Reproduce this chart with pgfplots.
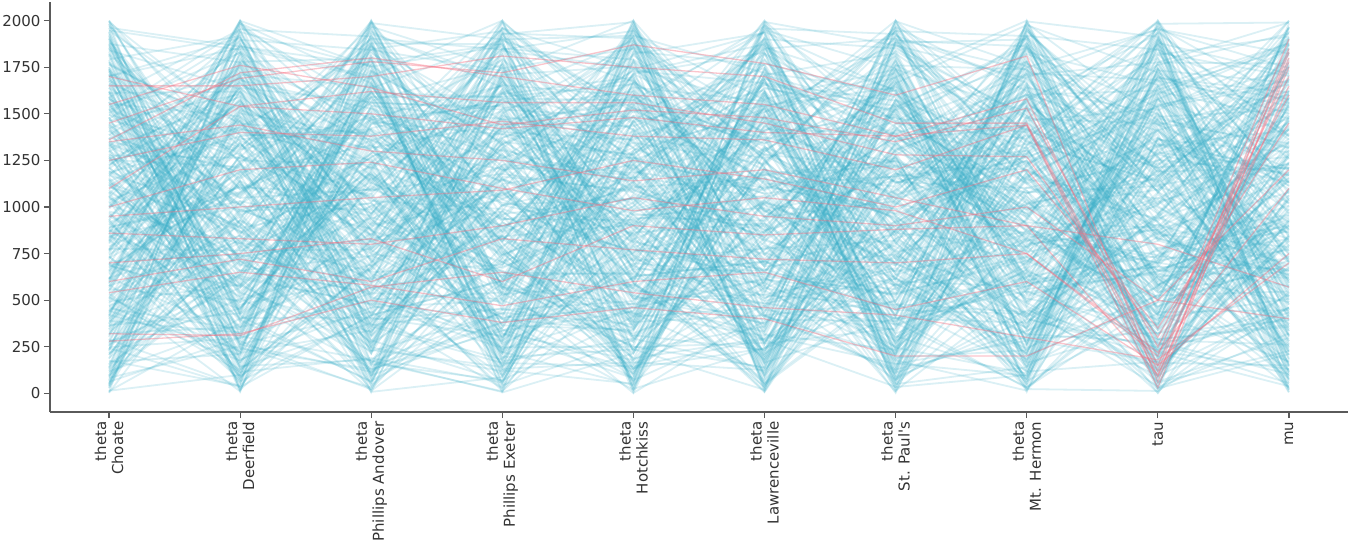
\documentclass[border=0pt]{standalone}
\usepackage{fontspec}
\setmainfont{DejaVu Sans}[Ligatures=TeXOff]
\usepackage{pgfplots}
\usepackage{pgfplotstable}
\pgfplotsset{compat=1.18}
\definecolor{cb}{HTML}{36ACC6}
\definecolor{cr}{HTML}{F66D7F}
\definecolor{spine}{HTML}{5A5A5A}
\definecolor{lab}{HTML}{333333}
\pgfplotstableread[header=false]{
0 873 1702 256 1318 41 1937 689 1520 455 1107 1463 512 1884 133 1049 771 1655 318 1246 962 207 1391 604 1788 835 12 1577 1996 1150 431 1823 95 1182 567 1409 916 372 1265 1621 740 652 1548 170 1013 1962 289 1734 496 1337 881 1213 344 1679 718 583 1496 1091 62 947 1855 421 1124 1432 1901 236 1766 118 809 763 1284 1640 677 990 215 1352 540 2000 1067 27 1591 154 1876 468 1455 621 1299 854 1712 390 1036 1168 903 1227 83 1608 1948 409 735 1534 261 1417 5 698 829 577 1135 1370 1819 1751 302 243 1693 1002 1980 1325 617 186 439 971 1565 1841 746 1481 520 99 1617 888 357 1193 1258 842 1349 47 1774 226 594 1443 1080 1909 660 483 1992 331 1119 1512 925 707 1206 138 1729 1274 1056 1661 788 867 71 279 1589 552 1868
1 519 1908 1142 76 1533 629 1787 1260 345 893 1604 227 958 1381 712 1999 18 1075 1426 568 1031 794 1852 263 1725 402 1318 841 157 1490 103 1557 476 1680 912 1232 1935 384 655 1188 1347 806 211 748 1861 39 1097 1461 535 1759 603 1698 1279 1977 126 1014 590 298 1573 977 1826 443 64 870 1159 1404 372 1641 1336 681 239 1120 1773 507 1205 929 766 1894 1518 9 1447 181 727 1066 320 1616 2000 461 850 1293 985 1364 1596 254 422 1843 1710 92 1173 632 1008 1951 574 1479 819 356 140 1243 701 1667 33 779 1742 944 1918 1311 1412 1136 283 490 1633 1226 398 115 660 546 1081 1872 897 1551 618 217 1985 1357 1779 1508 863 52 429 1195 1268 1437 832 581 1049 169 745 1696 1831 307 265 88 1389 1110 1583 1964 455 719 1620 904
2 1491 636 84 1873 1027 475 1302 967 1658 214 366 1929 1215 812 147 1753 703 1585 529 1162 884 23 1690 438 1376 1101 1968 271 1444 768 1715 1044 620 1527 349 112 936 1890 1233 597 486 1289 1807 58 1762 823 1419 650 1184 233 1954 392 905 1341 677 1470 171 1637 552 1019 1126 1669 415 310 1846 1250 741 6 872 1562 130 951 1475 690 504 1993 1070 1326 285 1728 1394 461 246 1612 1538 773 840 1153 1917 95 724 1406 1089 2000 859 329 1645 573 42 1208 1786 159 1878 612 1267 497 378 1590 1005 918 421 1134 990 1569 252 1704 1862 67 1357 785 1240 1940 667 189 544 1175 1503 829 1671 303 14 337 1456 1048 1796 751 1283 1811 946 407 1903 877 1619 226 1093 1321 588 709 1412 178 963 682 1365 517 101 1547 1196 1732 360 1985
3 1084 62 1932 706 1475 243 891 1630 517 1358 453 1687 935 1224 382 1861 1519 137 1163 648 1999 1306 290 28 817 779 1744 1010 1568 406 175 623 1438 1129 1776 588 1267 351 1820 962 1344 1955 572 1709 88 844 1057 690 216 1503 735 1192 1611 305 1283 1546 11 1897 901 479 1653 268 1371 976 1944 150 424 1488 659 1040 337 1422 752 1986 541 1146 1795 1203 66 829 866 498 119 1591 614 1668 1839 226 1330 1101 1530 943 1178 561 399 1251 783 97 1725 1906 44 1393 1873 1066 1615 279 1454 808 505 672 1927 740 322 1762 850 186 1215 447 1139 1582 1023 1641 1467 58 1316 590 617 1960 254 979 536 918 1389 1893 131 1500 368 1195 705 1706 1262 213 766 430 1559 2000 1077 1680 894 7 1749 1431 827 301 1118 694 1850 1340 163 570
4 713 1268 1905 344 1150 1672 109 528 1461 887 1962 25 931 1537 482 1203 395 1781 1089 640 217 1132 1575 796 1628 153 1849 858 1322 461 1391 1714 597 71 915 2000 604 1418 276 1043 132 806 352 1756 1290 413 1489 1198 727 1873 1547 1918 1076 1233 681 229 964 39 563 1697 821 586 1666 1980 14 1402 1167 1356 304 752 440 1593 188 1025 1831 942 1249 619 1603 383 1116 257 1387 899 1519 699 1744 1896 56 509 1620 771 1939 430 333 1181 97 1466 849 1315 286 1277 662 1408 551 1785 973 121 1859 1004 1992 1057 178 734 1301 826 361 495 1645 1573 902 4 1553 1264 1815 248 1139 1739 688 417 1228 521 1093 1674 167 741 1928 1445 379 954 1480 1606 312 83 877 1343 569 656 1160 1951 609 1867 1254 1120 235 1533 1791 812 145 478
5 1731 919 466 1235 1879 98 1148 287 694 1510 12 1572 1061 755 331 1668 1993 1276 840 593 1309 406 1941 1432 983 1019 264 179 1765 617 721 1828 57 384 1357 512 1622 874 1488 1177 1033 226 1709 953 140 1536 680 1906 449 1392 1970 1249 771 1656 527 359 896 1417 1108 73 574 36 1281 1085 1591 1847 213 648 810 1788 1464 1129 296 1999 702 927 160 1603 1338 419 861 1690 1546 495 1199 639 1263 22 1823 377 245 667 968 114 1744 1370 1958 544 1402 1071 1210 1900 1613 339 482 91 1155 835 746 1527 187 561 603 1499 1867 1771 909 1325 202 1016 1642 1444 51 880 1296 271 538 1934 1187 712 629 1040 1885 1219 125 467 1575 318 1707 994 1166 822 233 1976 1411 793 1680 7 596 1253 1849 166 1483 416 949 1093 1362 659 290 1619
6 308 1525 874 1913 722 1286 460 35 1182 1694 1263 640 118 517 1753 1011 1867 933 1449 250 847 1997 1621 1134 378 74 1575 1320 688 403 1407 263 589 1710 1959 795 861 1058 146 1247 426 1172 1824 3 1348 916 1667 601 339 1496 193 1613 1090 1542 475 1880 212 1395 990 770 2000 826 1211 371 61 1463 635 558 1790 1127 1045 100 741 953 1521 1735 1307 291 1942 493 1688 1380 226 660 1109 530 15 1893 1430 809 709 447 1557 1274 878 320 1928 1606 128 1165 244 1851 85 1739 616 1073 947 1413 1359 561 1236 898 1985 405 356 1590 49 687 1156 1647 1475 722 1018 173 1812 1339 1760 482 863 281 537 1704 1297 1966 915 107 1191 234 1508 653 29 1221 830 1454 1627 579 756 1038 1839 387 1904 1100 414 205 1375 1676 1538 921 617 160
7 77 1054 1733 659 1289 310 1894 1418 951 533 836 214 1487 1952 578 1641 1180 112 1367 704 1569 1755 617 1102 34 446 1313 880 1985 379 492 1227 257 163 1131 1919 786 1612 1540 968 1876 640 1331 1473 812 52 336 573 1663 1019 1167 139 1969 939 288 1260 1709 730 413 1421 671 1508 536 1790 1833 1088 857 237 18 1384 1245 2000 91 361 758 903 1559 1146 468 1727 224 982 1040 1392 1681 1527 555 1862 695 145 1776 427 866 8 1443 620 1215 1193 302 1921 1074 1490 395 777 184 1850 509 1270 1602 831 66 1694 1353 548 1947 271 646 1456 917 1125 1401 349 1908 1010 593 874 1738 120 1279 667 713 41 988 1622 1324 1159 203 1996 421 1593 1815 1302 485 826 265 735 176 1769 1414 1061 943 608 1647 1535 1001 591 1858 1236 318 95
8 1271 508 1443 26 1967 876 347 1090 1718 652 263 1637 765 1184 818 1502 151 1885 414 1330 1929 1117 63 1249 581 230 1680 699 1465 937 860 1578 1306 372 617 1844 1038 447 109 1793 553 4 1762 1990 1421 1368 722 906 286 1152 1526 1907 964 659 171 1609 496 319 1078 1212 1015 205 1853 578 1656 82 1393 1547 744 831 138 688 1167 1707 1281 422 997 1938 1484 259 1611 1339 340 853 1105 776 1412 57 1976 529 605 947 463 1519 219 1196 1819 1744 1223 191 1357 16 1590 1870 711 821 376 565 1625 1049 430 1955 1133 291 1264 1733 97 633 889 1408 1801 1476 617 122 956 517 1084 1321 1690 233 396 1070 1649 1284 45 1541 488 1913 840 767 918 582 1372 702 1897 364 1775 1453 1143 164 1494 680 31 1012 544 1201 869 1630 275 2000
9 627 1762 1115 211 1570 93 1353 1894 489 936 1041 537 170 1959 1306 764 1688 334 825 1412 19 1230 298 1717 880 1985 410 1466 718 1181 1641 1872 605 1285 127 1557 389 973 1094 568 1397 852 1930 447 699 1022 1440 55 261 1735 305 144 1583 910 1623 502 1158 740 1817 1268 1911 1488 426 1063 356 1214 8 1679 944 633 817 242 1752 181 1134 1871 676 1379 1522 459 594 1199 1327 785 2000 868 1604 227 72 1419 1536 657 901 1844 38 313 1259 521 1796 1007 112 1709 477 1362 1505 621 1966 1176 280 829 1088 1823 1451 367 553 1667 990 164 1233 752 706 1316 81 845 1731 1146 249 1908 1578 433 1602 418 1879 1473 1290 21 692 1040 958 372 208 926 639 575 1129 1544 1770 1341 1938 150 1207 1464 322 1658 780 884 516 1850 103 1073
}\blue
\pgfplotstableread[header=false]{
0 1062 443 1739 158 1224 1890 366 820 1408 771 1947 1329 612 1583 276 935 49 1675 587 1190 110 858 1466 509 1813 1001 1243 690 1792 205 1386 233 1157 1620 728 3 421 1971 997 1439 645 1856 86 912 1502 1277 1741 342 1053 560 1706 1138 471 311 190 1527 2000 1365 672 826 285 1473 1299 1918 1112 767 843 445 127 1658 952 31 1875 619 536 1689 1082 1554 1217 398 1421 734 217 1175 1763 593 66 1338 1939 881 402 1727 869 1253 1834 359 1588 14 1096 657 1902 268 1519 142 976 701 1314 1147 1640 575 1020 1266 176 1749 416 1495 247 1848 638 927 754 92 1129 375 1372 1983 1612 803 492 1563 54 1926 548 893 1448 1713 686 1302 322 1166 1779 940 1209 611 1031 120 1867 466 1537 253 1345 524 389 1481 38 815 1185 1701 776 1960
1 301 1239 167 624 1752 1093 430 1883 858 1547 1459 971 1995 1011 566 58 1688 279 1381 733 712 116 1297 1624 394 1572 887 453 1917 1140 1831 1761 511 24 1077 930 240 1322 1415 617 1166 690 1503 355 1948 1264 147 963 1705 498 82 1431 809 1874 745 582 1236 1667 1120 214 1352 1908 337 426 1550 1639 1002 176 790 911 572 1185 1776 846 11 262 658 1486 1864 1273 1693 223 752 1534 1391 2000 981 1049 129 405 925 540 1106 1215 386 636 1953 99 1462 1644 311 1727 1829 777 805 73 1591 459 1152 1341 1423 1012 40 520 1773 1308 297 711 946 1986 1812 641 872 1226 1190 248 1619 1519 583 135 1287 18 1658 1031 729 1455 490 817 356 1897 418 1567 691 1939 100 992 1133 206 1712 1250 1059 899 326 191 1477 1795 1379 1853 766 437
2 1648 97 912 1531 418 1357 1826 703 1180 219 684 1099 311 1959 1224 1775 561 22 1416 830 1270 1488 1880 958 65 347 1022 1693 519 748 275 874 134 1161 1739 611 1445 1904 1316 482 1996 533 1382 1611 777 1058 180 233 903 1590 827 1783 656 447 1506 1849 396 1204 8 1127 152 716 1625 1293 1145 1562 986 584 2000 270 1473 1331 459 372 1930 116 738 847 1701 1085 1136 1862 1517 43 281 931 1262 1760 667 406 565 329 1072 790 1240 1653 1915 1423 167 880 1727 817 79 1869 431 1344 215 1193 1558 623 1211 602 1977 1007 964 1480 538 364 126 1664 248 1901 475 850 1798 31 758 1306 1114 1543 643 1452 1358 382 1174 592 1618 159 896 1843 59 1033 941 1752 1470 683 254 1987 420 1229 1838 110 1596 1387 319 1165 808 506 772 1700
3 846 352 1936 1258 607 171 1402 1116 564 1684 29 1747 1090 447 1560 1873 1337 792 222 977 1515 588 108 1992 1158 1633 281 863 1211 654 1183 1309 725 398 56 839 1789 1845 1447 401 527 1905 1654 931 1285 213 637 142 1075 1591 1722 761 1366 1489 334 1001 455 1960 87 898 1227 13 579 1046 1611 1523 1889 247 950 708 365 819 1434 181 496 744 1147 1764 2000 1372 1851 1465 924 615 1199 542 38 1273 1670 309 679 1010 237 1708 1914 1390 871 1577 433 124 1348 479 1776 290 955 95 1962 632 1538 1177 148 1820 779 1217 1408 1651 506 1086 379 812 1605 224 1154 1877 5 917 1318 566 686 1473 410 1249 1552 880 748 1930 320 70 1041 1731 1426 989 157 531 1301 1124 1695 1899 603 268 1012 1618 552 726 1846 341 1580 842 1336 194
4 185 1549 658 1735 1003 294 1362 540 1917 826 1216 362 1860 972 1685 710 1587 1132 44 431 595 1983 1069 1454 99 1278 863 1621 784 215 1773 901 237 19 1304 562 1188 1945 1433 619 752 1233 1596 1047 383 1821 136 988 457 1659 2000 67 844 479 697 1708 322 1508 1376 1105 1171 625 2 1345 1893 1481 416 251 1642 937 341 1712 1259 1958 876 1022 774 158 592 1575 1411 509 1788 277 1267 107 1835 959 1140 666 925 1163 443 737 1529 1909 1604 1201 370 52 1283 1999 294 1666 133 868 1442 648 520 1080 468 24 1562 1151 1854 792 1247 390 917 1747 1696 1390 811 176 215 573 1017 1489 1967 711 1879 301 629 1526 1719 1094 81 412 1318 985 63 760 1677 586 840 1226 345 1919 1130 1460 1045 1418 1893 1291 503 129 677 904 1731 236
5 1492 977 210 48 1903 770 1684 1309 573 1116 437 1740 1385 1171 694 1462 125 1890 867 308 1966 266 655 1627 1243 93 913 551 1020 1579 808 1315 19 1848 1510 372 1089 742 1711 484 1296 160 1137 407 1693 1934 241 1457 611 946 359 1987 1531 789 11 856 593 1746 1262 1155 1617 710 436 1231 892 1009 1871 140 1568 276 1199 1404 1823 978 314 1659 622 471 70 1359 187 530 829 1544 1072 1287 1762 226 2000 659 747 1050 1710 290 1343 415 38 820 1431 1826 1857 1208 134 947 566 1480 681 1174 395 1636 871 243 1328 1792 604 27 1100 1914 512 1538 420 103 1950 1029 1595 1681 352 1374 987 777 1471 1606 706 164 1873 840 1320 459 267 1189 1251 911 1122 201 47 498 1554 1719 639 1943 330 682 577 1526 1035 1209 1982 181 1664 932
6 616 1144 1887 567 255 1489 111 1653 1335 961 1774 61 324 1223 854 413 1087 738 1928 1556 1019 1533 1306 140 697 1971 452 209 898 1739 10 582 1668 810 1881 1158 1427 1270 640 371 1835 1697 771 1574 1391 85 927 288 530 1031 1280 833 182 246 1126 1762 1999 569 1460 654 493 397 1508 1944 1606 786 1215 1178 50 872 940 1902 1066 703 158 1331 226 1416 1734 445 1549 672 538 1641 300 986 34 1867 1357 1183 215 1250 859 1011 1485 120 1798 622 2000 479 1629 177 1957 1376 419 1049 745 966 388 1521 1195 501 270 913 1816 1446 1262 80 727 1718 129 1577 1744 684 1133 233 1919 1241 576 820 1943 952 1299 406 19 1783 1072 1530 349 760 613 362 1164 1417 879 1388 461 1622 1871 192 1353 1891 71 275 697 587 808 1048 1571 1664
7 1863 457 1021 929 1596 167 336 622 1780 1250 260 1371 1453 788 31 1940 1628 523 1133 818 857 142 1707 1224 410 1190 647 1985 294 1513 1316 1578 703 211 1899 1749 991 66 1087 574 497 2000 23 1148 1661 879 1527 1286 730 379 1652 1013 833 107 1341 1411 590 244 1822 768 1488 679 397 1917 958 431 1202 1078 140 1609 52 1737 1270 1565 283 714 1876 912 560 1180 1124 322 1963 485 661 1305 98 1690 1434 803 797 846 1576 1718 1040 1857 213 78 1396 436 1232 15 556 895 1923 346 1162 1542 627 1781 964 1430 1105 690 542 1713 189 1364 1849 268 1954 741 117 1462 1288 938 1666 305 1018 404 364 1197 1601 29 1549 655 468 1876 1331 867 1755 593 1247 1911 84 1072 821 759 1475 231 412 1348 788 1186 352 166 1584 1644 902 1976
8 1151 38 663 1908 1227 1745 569 1497 833 280 1574 1872 964 213 492 1339 157 701 1620 1006 742 1366 1776 541 1131 893 1415 75 325 1994 226 870 1292 1586 116 1953 1093 1645 421 766 1710 433 13 1044 624 1470 290 1828 1253 951 183 1176 1900 1362 918 377 679 525 1536 1763 1208 1694 247 717 1555 94 826 1112 1866 593 1983 340 1503 981 1701 1027 1318 1 642 466 553 1450 1163 132 1944 659 1737 1206 357 879 906 727 458 1682 238 1271 1816 1439 60 1140 1541 1245 1889 404 1078 1654 315 848 737 142 269 91 939 1306 655 573 1467 1956 1190 1742 1015 1774 170 1528 426 1881 857 693 1374 201 1606 925 1410 630 1219 393 122 587 2000 1166 25 1932 311 1080 1679 1284 507 880 1447 781 713 1139 1333 246 962 1583 1849 190 436 1722
9 476 1563 889 305 1674 1112 1944 152 638 1241 1318 703 27 1788 1826 280 1049 954 1476 521 1627 1170 1990 661 91 1519 434 1278 392 838 130 226 1205 579 923 1745 1567 744 1877 1008 812 1903 461 1413 726 64 357 1703 1183 1350 1586 5 1129 1294 249 1967 668 547 1656 964 372 1615 797 1829 1095 419 1367 862 112 1432 1990 901 222 43 1501 1236 1768 1062 489 713 1141 563 1690 840 1385 619 186 1538 1851 336 691 1264 1459 1018 407 230 1915 1621 931 76 1739 258 147 508 1872 876 1480 1333 658 1097 55 1038 1901 1609 770 1423 980 311 1210 593 1342 607 528 265 171 1716 1154 1961 853 1557 1880 1491 917 1227 344 1191 460 33 789 1682 540 118 1303 730 1543 1999 1758 1078 206 898 829 1601 1169 1590 1836 101 393 675 446 1381
}\blueb
\pgfplotstableread[header=false]{
0 1650 1450 1360 1550 1250 1100 950 860 700 600 540 320 280 1700 1350 1000
1 1650 1690 1720 1760 1400 1540 1000 830 750 720 650 310 320 1540 1440 1200
2 1700 1780 1800 1640 1380 1620 1050 800 830 600 580 570 500 1500 1300 1240
3 1810 1720 1700 1440 1460 1560 1090 900 600 830 470 650 380 1420 1250 1100
4 1750 1870 1600 1520 1380 1560 1250 1050 900 770 600 540 460 1480 1140 980
5 1700 1770 1550 1480 1360 1450 1150 950 850 720 650 460 400 1400 1200 1050
6 1450 1600 1380 1350 1200 1280 1000 900 880 700 450 420 200 1380 1050 980
7 1450 1810 1580 1530 1440 1270 1200 1000 900 750 600 300 200 1440 900 750
8 120 60 150 250 90 300 350 500 800 200 150 180 500 30 100 220
9 1850 1830 1800 1700 1750 1600 1450 1200 570 1900 750 700 400 1780 1650 1100
}\red
\begin{document}
\begin{tikzpicture}
\path[use as bounding box] (0,0) rectangle (1350pt,544pt);
\begin{axis}[
  at={(50pt,132pt)}, anchor=south west,
  scale only axis, width=1298pt, height=410pt,
  xmin=-0.45, xmax=9.45, ymin=-100, ymax=2100,
  axis x line*=bottom, axis y line*=left,
  axis line style={spine, line width=1.2pt},
  every tick/.style={spine, line width=1.2pt},
  tick align=outside, major tick length=6pt,
  xtick={0,...,9},
  xticklabels={{theta\\Choate},{theta\\Deerfield},{theta\\Phillips Andover},{theta\\Phillips Exeter},{theta\\Hotchkiss},{theta\\Lawrenceville},{theta\\St. Paul's},{theta\\Mt. Hermon},{tau},{mu}},
  xticklabel style={rotate=90, anchor=east, align=right, font=\fontsize{15}{17}\selectfont, text=lab},
  ytick={0,250,...,2000},
  yticklabel style={font=\fontsize{15}{17}\selectfont, text=lab},
  /pgf/number format/assume math mode=true,
  /pgf/number format/1000 sep={},
]
\pgfplotsinvokeforeach{1,...,160}{
  \addplot[cb, opacity=0.18, line width=1.8pt, no marks] table[x index=0, y index=#1] {\blue};
  \addplot[cb, opacity=0.18, line width=1.8pt, no marks] table[x index=0, y index=#1] {\blueb};
}
\pgfplotsinvokeforeach{1,...,16}{
  \addplot[cr, opacity=0.4, line width=1.3pt, no marks] table[x index=0, y index=#1] {\red};
}
\end{axis}
\end{tikzpicture}
\end{document}
